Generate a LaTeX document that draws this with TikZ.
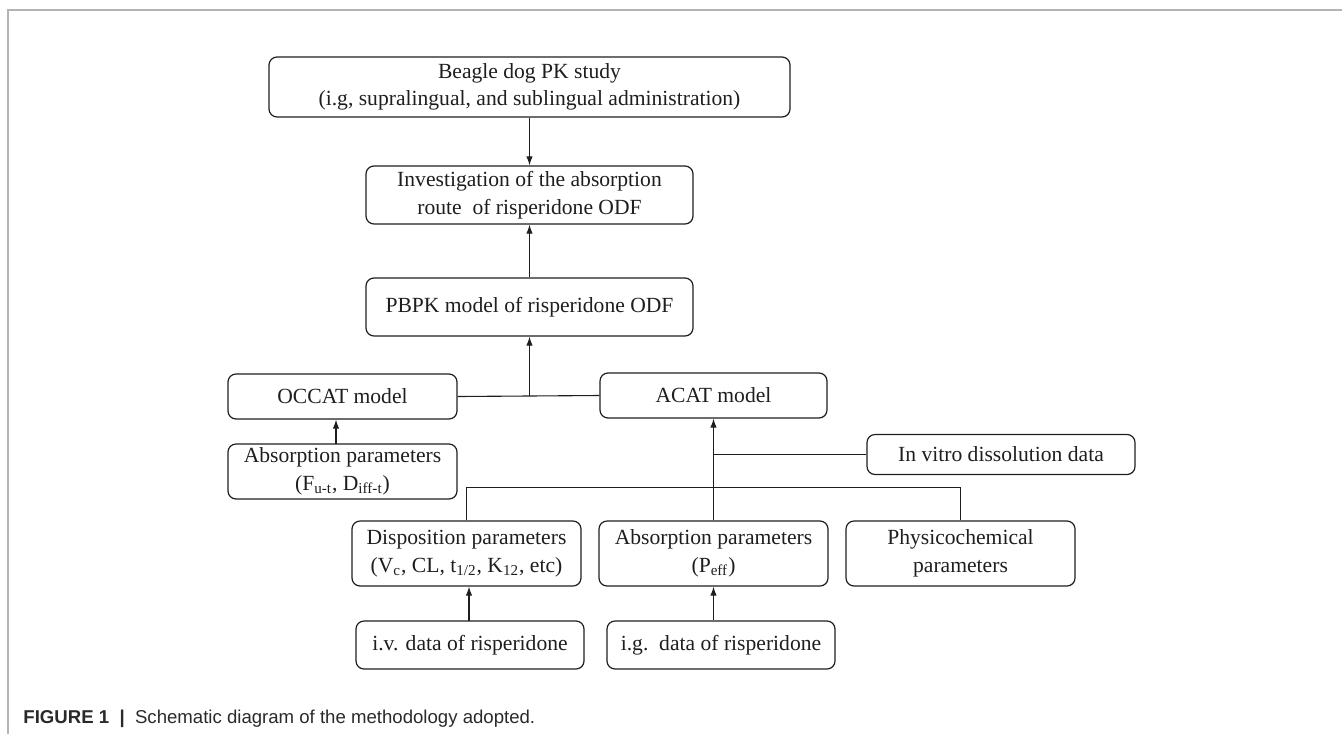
\documentclass[tikz,border=0pt]{standalone}
\usepackage{fontspec}
\setmainfont{Liberation Serif}
\newfontfamily\capfont{Liberation Sans}
\usetikzlibrary{arrows.meta,calc}
\definecolor{framegray}{HTML}{B4B4B4}
\definecolor{ink}{HTML}{1E1E1E}
\definecolor{capink}{HTML}{2A2A2A}
\tikzset{
  box/.style={draw=ink, line width=0.6pt, rounded corners=4pt, align=center,
    inner sep=0pt, font=\fontsize{10.8}{13.8}\selectfont, text=ink},
  conn/.style={draw=ink, line width=0.55pt},
  arr/.style={conn, -{Latex[length=4.5pt,width=3.2pt]}},
  frameline/.style={draw=framegray, line width=0.8pt}
}
\begin{document}
\begin{tikzpicture}[x=0.5pt,y=-0.5pt]
\useasboundingbox (0,0) rectangle (1342,734);
% frame
\coordinate (f0) at (8,734);
\coordinate (f1) at (8,10);
\coordinate (f2) at (1342,10);
\draw[frameline] (f0) -- (f1) -- (f2);
% nodes
\node[box, minimum width=260.5pt, minimum height=30pt] (beagle) at (529.5,87)
  {Beagle dog PK study\\(i.g, supralingual, and sublingual administration)};
\node[box, minimum width=163.5pt, minimum height=29pt] (invest) at (529.5,195)
  {Investigation of the absorption\\route\ \ of risperidone ODF};
\node[box, minimum width=163.5pt, minimum height=29pt] (pbpk) at (529.5,307)
  {PBPK model of risperidone ODF};
\node[box, minimum width=114.5pt, minimum height=22.5pt] (occat) at (342.5,396.5)
  {OCCAT model};
\node[box, minimum width=113.5pt, minimum height=22.5pt] (acat) at (713.5,395.5)
  {ACAT model};
\node[box, minimum width=114.5pt, minimum height=27.5pt] (absF) at (342.5,471.5)
  {Absorption parameters\\(F\textsubscript{u-t}, D\textsubscript{iff-t})};
\node[box, minimum width=134pt, minimum height=20pt] (invitro) at (1001,454.5)
  {In vitro dissolution\ data};
\node[box, minimum width=114.5pt, minimum height=32.5pt] (disp) at (466.5,553.5)
  {Disposition\ parameters\\(V\textsubscript{c}, CL, t\textsubscript{1/2}, K\textsubscript{12}, etc)};
\node[box, minimum width=114.5pt, minimum height=32.5pt] (peff) at (713.5,553.5)
  {Absorption parameters\\(P\textsubscript{eff})};
\node[box, minimum width=114.5pt, minimum height=32.5pt] (phys) at (960.5,553.5)
  {Physicochemical\\parameters};
\node[box, minimum width=114pt, minimum height=24pt] (iv) at (470,645)
  {i.v. data of risperidone};
\node[box, minimum width=114pt, minimum height=24pt] (ig) at (721,645)
  {i.g.\ \ data of risperidone};
% connectors
\draw[arr] (beagle.south) -- (invest.north);
\draw[arr] (pbpk.north) -- (invest.south);
\draw[conn] (occat.east) -- (acat.west);
\coordinate (j1) at (529.5,396);
\draw[arr] (j1) -- (pbpk.south);
\coordinate (j2) at (336,444);
\draw[arr] (j2) -- (j2 |- occat.south);
\draw[arr] (peff.north) -- (acat.south);
\coordinate (j3) at (713.5,454.5);
\draw[conn] (invitro.west) -- (j3);
\draw[conn] (disp.north) -- ++(0,-33) -| (phys.north);
\coordinate (j4) at (469,621);
\draw[arr] (j4) -- (j4 |- disp.south);
\draw[arr] (ig.north -| peff.south) -- (peff.south);
% caption
\node[anchor=base west, inner sep=0pt, text=capink, font=\capfont\fontsize{9.3}{11}\selectfont] (cap) at (23,723)
  {\textbf{FIGURE 1}\ \ {\bfseries|}\ \ Schematic diagram of the methodology adopted.};
\end{tikzpicture}
\end{document}
